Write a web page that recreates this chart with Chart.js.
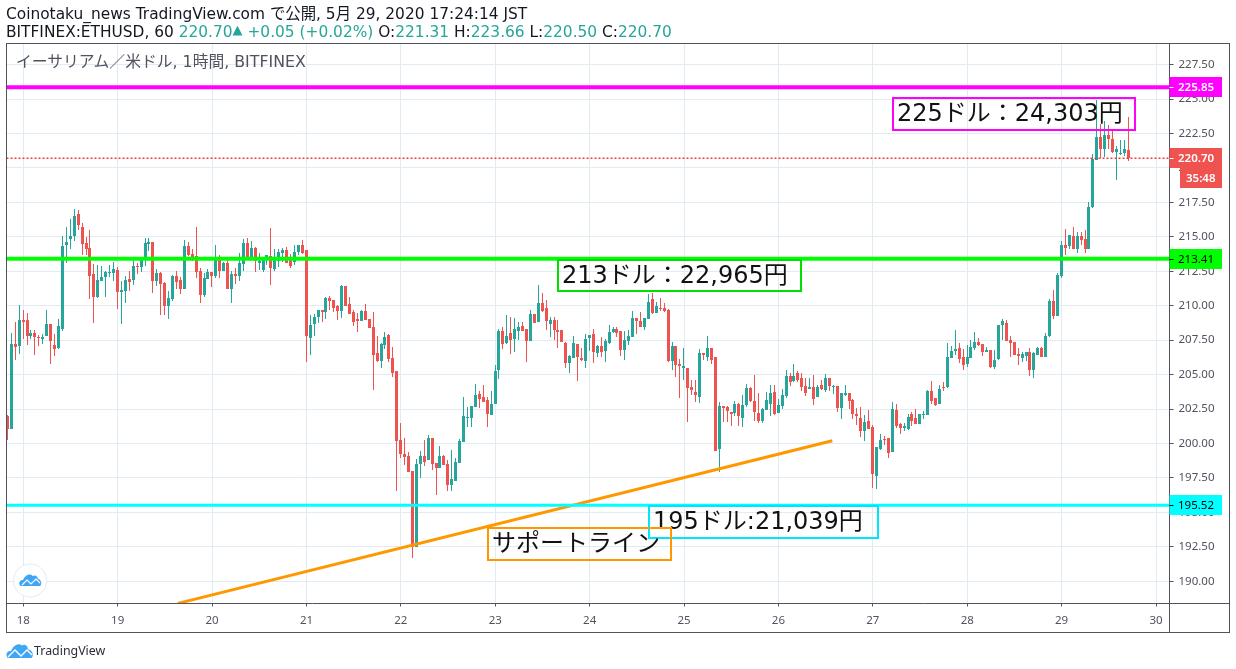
<!DOCTYPE html>
<html><head><meta charset="utf-8">
<style>
html,body{margin:0;padding:0;background:#fff;width:1236px;height:669px;overflow:hidden}
#wrap{position:relative;width:1236px;height:669px}
canvas{position:absolute;left:0;top:0}
.t{position:absolute;white-space:nowrap;font-family:"DejaVu Sans","Noto Sans CJK JP",sans-serif}
.box{position:absolute;box-sizing:border-box;border:2px solid;white-space:nowrap;font-family:"DejaVu Sans","Noto Sans CJK JP",sans-serif;font-size:24px;color:#111;line-height:28px;padding-left:3px}
.up{color:#26a69a}
</style></head><body><div id="wrap">
<canvas id="c" width="1236" height="669"></canvas>
<div class="t" style="left:6px;top:5px;font-size:15.4px;line-height:18px;color:#131722">Coinotaku_news TradingView.com で公開, 5月 29, 2020 17:24:14 JST</div>
<div class="t" style="left:6px;top:23px;font-size:15.4px;line-height:18px;color:#131722">BITFINEX:ETHUSD, 60 <span class="up">220.70</span><span class="up" style="font-size:13px;vertical-align:3px;line-height:0">▲</span> <span class="up">+0.05 (+0.02%)</span> O:<span class="up">221.31</span> H:<span class="up">223.66</span> L:<span class="up">220.50</span> C:<span class="up">220.70</span></div>
<div class="t" style="left:16px;top:52px;font-size:15.8px;line-height:20px;color:#50535e">イーサリアム／米ドル, 1時間, BITFINEX</div>
<div class="box" style="left:892px;top:97px;width:244px;height:34px;border-color:#ff00ff">225ドル：24,303円</div>
<div class="box" style="left:557px;top:259px;width:245px;height:33px;border-color:#00e000">213ドル：22,965円</div>
<div class="box" style="left:648px;top:505px;width:231px;height:34px;border-color:#00e5ff">195ドル:21,039円</div>
<div class="box" style="left:487px;top:527px;width:185px;height:34px;border-color:#ff9800">サポートライン</div>
<svg style="position:absolute;left:12px;top:563px" width="36" height="36" viewBox="0 0 36 36"><circle cx="18" cy="17.5" r="16.5" fill="#fff" stroke="#e6e9ee" stroke-width="1"/><path d="M8.5 23 C6 20 8 16.5 11 17 C13 12 18 10 20.5 13 C23 11.5 26 13.5 26 16 C29 16 30.5 21 28 23 Z" fill="#3ea6f5"/><polyline points="10,22 15,17 19,21 24,16 28,20" fill="none" stroke="#fff" stroke-width="1.2"/></svg>
<svg style="position:absolute;left:6px;top:643px" width="27" height="15" viewBox="0 0 27 15"><path d="M1.5 15 C-1 11 1.5 7.5 5 8 C7 3 12 -1 16 2.5 C19 0.5 22 3.5 22 6.5 C26 6.5 28.5 12 25.5 15 Z" fill="#3ea6f5"/><polyline points="2,14 9,7 15,13 21,7 26,12" fill="none" stroke="#fff" stroke-width="1.4"/></svg>
<div class="t" style="left:34px;top:642px;font-family:'Noto Sans',sans-serif;font-size:12.4px;line-height:18px;color:#2a2e39">TradingView</div>
</div>
<script src="https://cdn.jsdelivr.net/npm/chart.js@4"></script>
<script>
const firstHour = -4;
const opens = [201.99,201.08,207.22,207.08,
208.96,208.96,207.8,208.02,207.75,207.58,207.8,208.67,207.15,206.93,
208.31,214.4,214.84,215.06,216.65,215.71,214.55,214.19,212.3,210.63,
211.79,212.08,212.37,212.37,212.59,210.99,211.07,211.94,211.86,212.88,
212.81,213.32,214.48,214.62,211.79,212.37,211.65,209.98,210.49,212.15,
211.86,211.21,214.33,213.75,213.6,212.52,210.78,211.94,212.45,212.16,
213.32,212.52,213.1,211.21,212.3,212.16,213.03,214.55,213.53,214.19,
213.1,212.59,213.32,213.61,212.66,213.24,213.83,214.04,213.32,213.17,
213.9,214.41,214.04,207.66,208.67,209.18,209.69,209.54,210.56,210.41,
209.98,209.62,211.43,210.12,209.54,209.04,208.89,209.62,209.04,208.45,
206.57,205.99,207.15,207.87,206.2,205.26,200.25,199.24,199.09,198.0,
192.49,198.51,199.09,198.8,200.4,198.58,198.22,199.09,198.51,196.99,
197.28,198.58,200.11,201.85,201.85,202.65,203.59,203.37,203.16,202.07,
202.87,205.33,208.16,207.29,208.02,207.58,208.16,208.53,208.31,207.44,
209.4,208.82,210.2,209.83,208.67,208.96,208.24,208.24,207.29,205.84,
206.2,207.22,206.2,205.99,207.66,207.95,206.57,207.07,206.71,207.29,
208.09,208.31,208.16,206.79,207.44,207.73,209.11,208.89,208.45,209.03,
210.49,209.47,209.83,209.83,209.69,205.99,207.07,205.77,205.48,205.48,
204.1,203.74,203.37,206.57,206.28,206.93,206.28,199.6,202.72,202.65,
202.29,202.21,202.87,201.85,202.79,204.03,203.09,202.21,201.63,202.43,
202.87,203.74,202.21,202.72,203.45,204.9,204.54,205.12,204.75,204.17,
203.96,204.1,203.37,204.25,203.88,204.75,204.08,204.17,202.6,203.52,
203.66,203.16,202.14,201.85,200.91,201.63,201.2,197.64,199.6,200.25,
200.4,199.38,202.43,201.41,201.12,201.05,202.14,201.85,201.41,202.09,
202.07,203.81,203.3,202.87,204.1,204.1,206.2,206.71,206.93,206.28,
205.77,206.2,206.93,207.37,207.22,206.64,206.79,205.55,206.13,208.6,
208.74,207.51,207.37,206.5,206.2,206.35,206.64,205.33,206.42,206.93,
206.28,207.8,210.34,209.25,212.15,214.4,214.33,215.06,214.11,215.06,
214.84,214.11,217.16,220.57,222.24,221.37,222.39,222.1,221.15,221.01,
221.08,221.31];
const closes = [201.08,207.22,207.0,208.96,
208.82,207.8,208.02,207.73,207.66,207.73,208.67,207.44,206.86,208.53,
214.33,214.62,215.06,216.51,215.86,214.48,214.11,212.15,210.63,211.86,
212.08,212.45,212.45,212.66,210.99,211.14,211.86,211.72,212.88,212.81,
213.32,214.55,214.62,211.79,212.37,211.57,209.98,210.56,212.15,211.72,
211.21,214.33,213.68,213.53,212.45,210.78,212.01,212.45,212.16,213.32,
212.52,213.1,211.21,212.3,212.16,213.1,214.55,213.53,214.19,213.24,
213.24,213.39,213.68,212.74,213.32,213.9,214.04,213.1,212.88,213.9,
214.41,213.83,207.8,208.6,209.18,209.69,209.54,210.56,210.34,209.83,
209.62,211.43,209.98,209.4,208.82,208.89,209.62,208.96,208.38,206.42,
205.99,207.22,207.73,206.13,205.12,200.18,199.24,199.02,197.93,192.49,
198.51,199.09,198.66,200.4,198.51,198.22,199.09,198.44,196.99,197.42,
198.66,200.18,201.99,201.92,202.72,203.52,203.23,203.01,202.14,202.87,
205.26,208.16,207.22,207.8,207.51,208.31,208.45,208.16,207.44,209.4,
208.74,210.2,209.62,208.89,208.96,208.24,208.09,207.37,205.84,206.35,
207.29,206.28,206.06,207.58,207.87,206.64,207.07,206.64,207.44,208.09,
208.31,208.02,206.79,207.51,207.8,209.11,208.89,208.45,209.11,210.27,
209.47,209.98,209.76,209.62,205.99,207.07,205.7,205.62,205.62,204.03,
203.88,203.52,206.57,206.42,206.93,206.06,199.46,202.72,202.57,202.36,
202.14,202.87,202.0,202.79,204.03,203.09,202.29,201.63,202.5,203.16,
203.66,202.14,202.79,203.52,204.9,204.46,204.9,204.61,204.1,203.66,
204.1,203.23,204.1,203.96,204.75,204.17,204.1,202.6,203.66,203.66,
203.08,202.14,202.0,200.91,201.56,201.05,197.79,199.75,200.25,200.23,
199.31,202.5,201.27,201.12,201.27,201.92,201.63,201.41,202.14,202.14,
203.81,203.08,202.79,203.96,204.05,206.28,206.71,206.86,206.13,205.7,
206.28,207.0,207.37,207.15,206.64,206.79,205.55,206.06,208.6,208.89,
207.44,207.29,206.42,206.35,206.5,206.64,205.33,206.57,206.93,206.28,
207.8,210.34,209.25,212.23,214.4,214.19,215.13,214.11,215.06,214.77,
214.11,217.16,220.65,222.24,221.37,222.39,222.1,221.15,221.37,221.08,
221.37,220.70];
const highs = [202.05,207.99,208.82,210.05,
209.69,209.47,208.24,208.24,207.87,207.95,209.69,208.67,207.95,209.03,
215.06,215.71,216.29,217.02,216.94,216.0,214.99,215.49,213.03,212.95,
212.88,212.52,212.95,213.17,212.81,211.79,212.15,212.52,213.39,213.1,
213.53,214.91,214.91,214.62,212.66,212.45,211.72,211.07,212.23,212.52,
212.08,214.77,214.62,214.11,215.71,212.74,212.37,212.66,212.45,214.41,
213.68,213.17,213.32,212.52,212.74,213.85,214.84,214.91,214.7,214.26,
213.85,213.46,213.68,215.64,214.12,214.12,214.19,214.26,213.75,214.41,
214.41,214.77,214.04,209.33,209.4,209.69,209.69,210.63,210.7,210.41,
210.05,211.5,211.43,210.63,209.69,209.47,209.69,210.12,209.04,209.54,
207.8,207.29,208.09,207.95,207.0,205.26,201.49,200.4,199.38,198.0,
198.87,199.46,200.25,200.62,200.4,198.58,199.82,199.17,198.8,199.53,
198.95,200.33,203.37,202.65,202.72,204.32,203.81,204.24,203.37,203.81,
205.7,208.31,208.45,209.32,209.18,209.11,208.82,208.82,208.31,209.69,
209.4,211.5,210.92,210.41,209.18,209.18,208.96,208.24,207.37,206.42,
207.8,207.22,206.93,207.95,207.87,208.31,207.15,207.73,207.58,208.6,
208.45,208.45,208.16,208.16,208.24,209.6,209.11,209.54,209.11,210.85,
210.92,210.27,210.56,210.2,209.76,207.37,207.07,206.13,206.93,205.48,
204.61,204.61,206.86,206.57,207.8,206.93,206.28,203.01,202.72,202.72,
202.29,203.09,202.94,203.52,204.32,204.1,204.97,203.66,202.58,203.74,
204.25,204.25,203.23,203.96,205.33,205.12,205.77,205.26,205.12,204.75,
204.75,204.97,204.25,204.61,205.04,204.75,204.25,204.17,203.66,204.25,
203.66,203.23,202.6,202.65,202.07,202.43,201.34,199.75,200.69,200.54,
200.4,203.01,202.87,201.49,201.49,202.14,202.29,202.5,202.14,202.36,
203.88,204.54,203.3,204.25,204.46,207.29,207.07,208.24,207.29,206.86,
207.15,207.51,208.09,207.66,207.22,207.0,206.79,206.79,208.6,209.03,
208.96,207.8,207.37,206.93,206.64,206.64,206.93,206.64,207.0,207.0,
208.02,210.48,211.14,212.37,214.7,215.57,215.13,215.71,215.35,215.35,
215.49,217.53,221.01,224.93,223.19,223.4,223.11,222.75,221.59,222.03,
222.03,223.66];
const lows = [200.25,201.08,206.06,206.49,
207.56,207.15,207.58,206.42,207.08,207.22,207.8,205.77,206.35,206.86,
208.16,213.1,214.11,214.69,215.49,213.68,213.68,210.49,208.74,210.56,
211.79,210.63,212.08,211.79,209.76,208.67,210.2,211.07,211.5,212.3,
212.45,212.88,213.97,210.92,211.43,209.33,209.33,209.03,210.34,211.21,
210.85,211.21,213.6,213.24,212.01,210.2,210.63,211.94,211.36,212.01,
212.01,212.52,211.21,210.2,211.58,211.79,212.52,213.46,213.46,212.45,
212.59,212.45,212.95,211.5,212.52,212.81,213.17,213.1,212.74,212.95,
213.68,213.75,205.91,206.42,207.8,208.75,208.82,209.04,209.69,209.54,
208.96,209.11,209.98,209.4,208.53,208.09,208.89,208.96,208.38,203.88,
205.91,205.48,206.86,205.91,204.83,196.55,198.95,198.44,197.93,191.69,
192.49,197.5,198.37,198.8,198.08,196.26,198.22,198.44,196.55,196.55,
197.28,198.58,200.11,201.2,201.2,202.65,202.58,203.01,201.2,202.07,
202.87,204.68,206.86,207.22,206.49,206.64,207.51,208.16,205.91,207.44,
208.74,208.82,209.54,208.24,207.73,207.51,206.93,207.37,205.48,205.12,
206.2,204.54,205.99,205.48,206.71,205.84,206.28,206.28,205.91,207.22,
207.99,207.73,206.35,206.06,207.15,207.73,207.95,208.45,208.24,209.03,
209.4,209.47,209.62,209.54,205.91,205.33,204.83,203.3,204.61,201.56,
203.52,203.01,202.94,206.06,205.99,205.77,199.46,197.93,201.56,201.56,
201.27,202.0,201.27,201.2,202.65,203.01,201.63,201.49,201.49,202.43,
202.0,202.07,202.21,202.5,203.3,204.17,204.46,204.46,203.81,203.45,
203.96,202.79,203.37,203.88,203.74,203.81,203.59,202.29,201.78,203.45,
202.5,201.78,201.34,200.47,200.18,201.05,196.77,196.7,199.53,199.89,
198.95,199.38,201.12,200.69,200.91,200.98,201.27,201.41,201.41,201.78,
202.07,202.87,202.72,202.87,203.81,204.03,206.2,206.42,205.84,205.33,
205.55,206.2,206.79,207.08,206.35,206.64,205.48,205.41,206.06,207.51,
207.44,206.28,206.42,205.7,205.91,205.99,204.9,204.75,206.42,206.28,
206.28,207.73,209.03,209.25,212.01,213.68,214.11,214.11,213.83,214.4,
213.83,214.11,217.09,220.57,220.72,220.79,221.37,221.08,219.12,220.94,
220.86,220.50];
const dayLabels = [18,19,20,21,22,23,24,25,26,27,28,29,30];
const dayTicks = [0,24,48,72,96,120,144,168,192,216,240,264,288];
const priceTicks = [190,192.5,195,197.5,200,202.5,205,207.5,210,212.5,215,217.5,220,222.5,225,227.5];
const xMin = -4.27, xMax = 291.43, yMin = 188.39, yMax = 229.03;
const resistanceTop = 225.85, resistanceMid = 213.41, supportLow = 195.52, lastPrice = 220.70;
const trendHours = [39.3, 205.7], trendPrices = [188.4, 200.2];
const countdown = "35:48";

const UP = "#26a69a", DOWN = "#ef5350";
const hours = opens.map((_, k) => k + firstHour);
const candleColors = opens.map((o, k) => closes[k] >= o ? UP : DOWN);
const wicks = hours.map((h, k) => ({x: h, y: [lows[k], highs[k]]}));
const bodies = hours.map((h, k) => ({x: h, y: [Math.min(opens[k], closes[k]), Math.max(opens[k], closes[k])]}));
const hline = (v, color, width, dash) => ({type: "line", data: [{x: xMin, y: v}, {x: xMax, y: v}], borderColor: color, borderWidth: width, borderDash: dash || [], pointRadius: 0, order: 1});

const snapPlugin = {
  id: "snapCandles",
  beforeDatasetsDraw(chart) {
    chart.getSortedVisibleDatasetMetas().forEach(meta => {
      if (meta.type !== "bar") return;
      meta.data.forEach(el => {
        el.x = Math.floor(el.x - 0.2) + 0.5;
        const top = Math.round(el.y);
        let bottom = Math.round(el.base);
        if (bottom <= top) bottom = top + 1;
        el.y = top; el.base = bottom; el.height = bottom - top;
      });
    });
  }
};

const labelsPlugin = {
  id: "tvDecor",
  afterDraw(chart) {
    const c = chart.ctx, a = chart.chartArea, y = chart.scales.y;
    c.save();
    c.strokeStyle = "#50535e"; c.lineWidth = 1;
    c.strokeRect(6.5, 43.5, 1223, 589);
    c.beginPath();
    c.moveTo(a.right, 43.5); c.lineTo(a.right, 632.5);
    c.moveTo(6.5, a.bottom); c.lineTo(1229.5, a.bottom);
    c.stroke();
    const tag = (v, bg, fg, txt, x0, dy, bold) => {
      const py = Math.round(y.getPixelForValue(v)) + dy;
      c.fillStyle = bg; c.fillRect(x0, py - 10, 1222 - x0, 20);
      c.fillStyle = fg; c.font = (bold ? "600 " : "") + '11.5px "Noto Sans"';
      c.textBaseline = "middle"; c.textAlign = "left";
      c.fillText(txt, x0 === a.right ? 1178 : x0 + 6, py + 0.5);
      if (x0 === a.right) { c.fillStyle = fg; c.fillRect(a.right, py, 4, 1); }
    };
    tag(resistanceTop, "#ff00ff", "#ffffff", resistanceTop.toFixed(2), a.right, 0, true);
    tag(resistanceMid, "#00ff00", "#000000", resistanceMid.toFixed(2), a.right, 0, false);
    tag(supportLow, "#00ffff", "#000000", supportLow.toFixed(2), a.right, 0, false);
    tag(lastPrice, DOWN, "#ffffff", lastPrice.toFixed(2), a.right, 0, true);
    tag(lastPrice, DOWN, "#ffffff", countdown, 1180, 20, true);
    c.restore();
  }
};

new Chart(document.getElementById("c"), {
  type: "bar",
  data: { datasets: [
    {data: wicks, backgroundColor: candleColors, barThickness: 1, inflateAmount: 0, grouped: false, order: 4},
    {data: bodies, backgroundColor: candleColors, barThickness: 3, inflateAmount: 0, grouped: false, minBarLength: 1, order: 3},
    hline(lastPrice, "#f23a3a", 1.4, [2, 2]),
    hline(resistanceTop, "#ff00ff", 4),
    hline(resistanceMid, "#00ff00", 4),
    hline(supportLow, "#00ffff", 3),
    {type: "line", data: trendHours.map((h, k) => ({x: h, y: trendPrices[k]})), borderColor: "#ff9800", borderWidth: 3, pointRadius: 0, order: 1}
  ]},
  options: {
    responsive: false, animation: false, devicePixelRatio: 1,
    layout: {padding: {left: 6.5, top: 43.5, right: 6.5, bottom: 36.5}},
    plugins: {legend: {display: false}, tooltip: {enabled: false}},
    scales: {
      x: {type: "linear", offset: false, min: xMin, max: xMax, position: "bottom",
        afterBuildTicks: s => { s.ticks = dayTicks.map(v => ({value: v})); },
        afterFit: s => { s.height = 29; },
        grid: {color: "#e1ecf2", lineWidth: 1, tickColor: "#50535e", tickLength: 3, offset: false},
        border: {display: false},
        ticks: {autoSkip: false, maxRotation: 0, padding: 7, color: "#50535e", font: {family: "Noto Sans", size: 11.5},
          callback: v => dayLabels[dayTicks.indexOf(v)]}},
      y: {type: "linear", position: "right", min: yMin, max: yMax,
        afterBuildTicks: s => { s.ticks = priceTicks.map(v => ({value: v})); },
        afterFit: s => { s.width = 60; },
        grid: {color: "#e1ecf2", lineWidth: 1, tickColor: "#50535e", tickLength: 4},
        border: {display: false},
        ticks: {padding: 5, color: "#50535e", font: {family: "Noto Sans", size: 11.5}, callback: v => v.toFixed(2)}}
    }
  },
  plugins: [snapPlugin, labelsPlugin]
});
</script>
</body></html>
